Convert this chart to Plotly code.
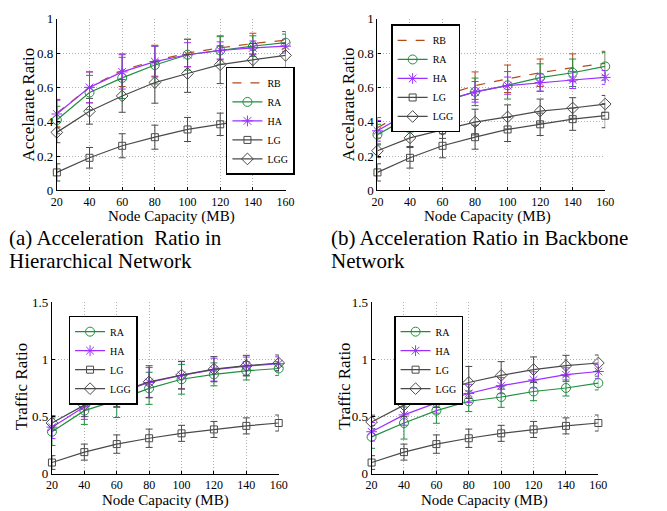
import plotly.graph_objects as go

W, H = 667, 511

capacity = [20, 40, 60, 80, 100, 120, 140, 160]

# (a) Acceleration ratio, hierarchical network
a_RB = [0.45, 0.60, 0.70, 0.755, 0.80, 0.83, 0.855, 0.875]
a_RB_err = [0.08, 0.09, 0.095, 0.09, 0.08, 0.07, 0.06, 0.05]
a_RA = [0.41, 0.57, 0.655, 0.73, 0.79, 0.815, 0.84, 0.86]
a_RA_err = [0.08, 0.10, 0.12, 0.11, 0.09, 0.08, 0.06, 0.05]
a_HA = [0.445, 0.60, 0.69, 0.75, 0.79, 0.815, 0.83, 0.84]
a_HA_err = [0.08, 0.09, 0.10, 0.09, 0.07, 0.05, 0.04, 0.04]
a_LG = [0.105, 0.19, 0.26, 0.31, 0.355, 0.385, 0.415, 0.435]
a_LG_err = [0.05, 0.06, 0.07, 0.07, 0.07, 0.065, 0.065, 0.07]
a_LGG = [0.338, 0.461, 0.55, 0.628, 0.681, 0.732, 0.76, 0.786]
a_LGG_err = [0.06, 0.075, 0.095, 0.12, 0.11, 0.11, 0.095, 0.07]

# (b) Acceleration ratio, backbone network
b_RB = [0.365, 0.47, 0.55, 0.61, 0.65, 0.685, 0.715, 0.74]
b_RB_err = [0.06, 0.075, 0.08, 0.08, 0.08, 0.08, 0.08, 0.07]
b_RA = [0.325, 0.43, 0.516, 0.574, 0.612, 0.657, 0.685, 0.722]
b_RA_err = [0.06, 0.09, 0.08, 0.08, 0.08, 0.08, 0.08, 0.08]
b_HA = [0.347, 0.456, 0.52, 0.574, 0.61, 0.628, 0.643, 0.658]
b_HA_err = [0.06, 0.07, 0.07, 0.06, 0.05, 0.05, 0.05, 0.04]
b_LG = [0.105, 0.19, 0.26, 0.31, 0.355, 0.385, 0.415, 0.435]
b_LG_err = [0.05, 0.06, 0.07, 0.07, 0.07, 0.065, 0.065, 0.07]
b_LGG = [0.231, 0.306, 0.353, 0.398, 0.428, 0.462, 0.48, 0.503]
b_LGG_err = [0.04, 0.05, 0.05, 0.075, 0.07, 0.07, 0.06, 0.05]

# (c) Traffic ratio, hierarchical network
c_RA = [0.368, 0.552, 0.642, 0.747, 0.826, 0.869, 0.90, 0.92]
c_RA_err = [0.12, 0.12, 0.15, 0.14, 0.13, 0.10, 0.08, 0.06]
c_HA = [0.408, 0.586, 0.70, 0.798, 0.86, 0.91, 0.94, 0.962]
c_HA_err = [0.10, 0.11, 0.12, 0.13, 0.12, 0.10, 0.08, 0.06]
c_LG = [0.099, 0.19, 0.26, 0.311, 0.354, 0.388, 0.419, 0.444]
c_LG_err = [0.06, 0.07, 0.08, 0.08, 0.07, 0.07, 0.07, 0.07]
c_LGG = [0.444, 0.60, 0.707, 0.804, 0.863, 0.914, 0.945, 0.968]
c_LGG_err = [0.06, 0.10, 0.12, 0.14, 0.12, 0.11, 0.09, 0.07]

# (d) Traffic ratio, backbone network
d_RA = [0.323, 0.444, 0.552, 0.634, 0.671, 0.719, 0.75, 0.793]
d_RA_err = [0.10, 0.14, 0.11, 0.09, 0.09, 0.08, 0.07, 0.06]
d_HA = [0.368, 0.515, 0.62, 0.702, 0.77, 0.821, 0.866, 0.894]
d_HA_err = [0.08, 0.09, 0.09, 0.08, 0.07, 0.07, 0.06, 0.06]
d_LG = [0.099, 0.19, 0.26, 0.311, 0.354, 0.388, 0.419, 0.444]
d_LG_err = [0.06, 0.07, 0.08, 0.08, 0.07, 0.07, 0.07, 0.07]
d_LGG = [0.453, 0.60, 0.70, 0.798, 0.86, 0.911, 0.945, 0.968]
d_LGG_err = [0.06, 0.10, 0.12, 0.14, 0.12, 0.11, 0.09, 0.07]

x_ticks = [20, 40, 60, 80, 100, 120, 140, 160]
y_ticks_acc = [0, 0.2, 0.4, 0.6, 0.8, 1]
y_ticks_acc_text = ["0", "0.2", "0.4", "0.6", "0.8", "1"]
y_ticks_tr = [0, 0.5, 1, 1.5]
y_ticks_tr_text = ["0", "0.5", "1", "1.5"]

SERIF = "Liberation Serif"
C_RB = "#b5491a"
C_RA = "#1f8f3f"
C_HA = "#9b30ff"
C_LG = "#4a4a4a"
C_LGG = "#4a4a4a"

STYLE = {
    "RB": dict(color=C_RB, dash="dash", symbol=None),
    "RA": dict(color=C_RA, dash="solid", symbol="circle-open"),
    "HA": dict(color=C_HA, dash="solid", symbol="asterisk-open"),
    "LG": dict(color=C_LG, dash="solid", symbol="square-open"),
    "LGG": dict(color=C_LGG, dash="solid", symbol="diamond-open"),
}
SIZES = {"RA": 9, "HA": 9, "LG": 7, "LGG": 9}

def px_x(p):
    return p / W

def px_y(p):
    return 1 - p / H

fig = go.Figure()

panels = [
    ("", "legend", [("RB", a_RB, a_RB_err), ("RA", a_RA, a_RA_err), ("HA", a_HA, a_HA_err),
                    ("LG", a_LG, a_LG_err), ("LGG", a_LGG, a_LGG_err)]),
    ("2", "legend2", [("RB", b_RB, b_RB_err), ("RA", b_RA, b_RA_err), ("HA", b_HA, b_HA_err),
                      ("LG", b_LG, b_LG_err), ("LGG", b_LGG, b_LGG_err)]),
    ("3", "legend3", [("RA", c_RA, c_RA_err), ("HA", c_HA, c_HA_err),
                      ("LG", c_LG, c_LG_err), ("LGG", c_LGG, c_LGG_err)]),
    ("4", "legend4", [("RA", d_RA, d_RA_err), ("HA", d_HA, d_HA_err),
                      ("LG", d_LG, d_LG_err), ("LGG", d_LGG, d_LGG_err)]),
]

for suffix, leg, series in panels:
    for name, vals, err in series:
        st = STYLE[name]
        mode = "lines" if st["symbol"] is None else "lines+markers"
        marker = None
        if st["symbol"] is not None:
            marker = dict(symbol=st["symbol"], size=SIZES[name], color=st["color"],
                          line=dict(color=st["color"], width=1))
        fig.add_trace(go.Scatter(
            x=capacity, y=vals, name=name, mode=mode,
            line=dict(color=st["color"], width=1.2, dash=st["dash"]),
            marker=marker,
            error_y=dict(type="data", array=err, visible=True, color=st["color"],
                         thickness=1, width=3.5),
            xaxis="x" + suffix, yaxis="y" + suffix, legend=leg,
            cliponaxis=False, hoverinfo="skip",
        ))

GRID = dict(showgrid=True, gridcolor="#b0b0b0", griddash="1px,2px", gridwidth=1)

def xaxis_cfg(domain, anchor, fs):
    return dict(domain=domain, anchor=anchor, range=[20, 160], tickvals=x_ticks,
                ticktext=[str(v) for v in x_ticks],
                showline=True, linecolor="black", linewidth=1.2, mirror=False,
                ticks="inside", ticklen=3, tickcolor="black",
                zeroline=False, tickfont=dict(family=SERIF, size=fs, color="black"),
                fixedrange=True, **GRID)

def yaxis_cfg(domain, anchor, rng, tv, tt, fs):
    return dict(domain=domain, anchor=anchor, range=rng, tickvals=tv, ticktext=tt,
                showline=True, linecolor="black", linewidth=1.2, mirror=False,
                ticks="inside", ticklen=3, tickcolor="black",
                zeroline=False, tickfont=dict(family=SERIF, size=fs, color="black"),
                fixedrange=True, **GRID)

top_y = [px_y(189), px_y(12)]
bot_y = [px_y(481), px_y(304)]

fig.update_layout(
    width=W, height=H, margin=dict(l=0, r=0, t=0, b=0),
    paper_bgcolor="white", plot_bgcolor="white",
    hovermode=False,
    xaxis=xaxis_cfg([px_x(52), px_x(286)], "y", 12),
    yaxis=yaxis_cfg(top_y, "x", [0, 1], y_ticks_acc, y_ticks_acc_text, 13),
    xaxis2=xaxis_cfg([px_x(380), px_x(613)], "y2", 12),
    yaxis2=yaxis_cfg(top_y, "x2", [0, 1], y_ticks_acc, y_ticks_acc_text, 13),
    xaxis3=xaxis_cfg([px_x(47), px_x(279)], "y3", 12),
    yaxis3=yaxis_cfg(bot_y, "x3", [0, 1.5], y_ticks_tr, y_ticks_tr_text, 13),
    xaxis4=xaxis_cfg([px_x(374), px_x(606)], "y4", 12),
    yaxis4=yaxis_cfg(bot_y, "x4", [0, 1.5], y_ticks_tr, y_ticks_tr_text, 13),
)

def legend_cfg(x, y, yanchor="top"):
    return dict(x=x, y=y, xanchor="left", yanchor=yanchor, bgcolor="white",
                bordercolor="black", borderwidth=1.5,
                font=dict(family=SERIF, size=10, color="black"),
                itemwidth=30, tracegroupgap=0)

fig.update_layout(
    legend=legend_cfg(px_x(225), px_y(173), "bottom"),
    legend2=legend_cfg(px_x(394), px_y(18)),
    legend3=legend_cfg(px_x(64), px_y(318)),
    legend4=legend_cfg(px_x(397), px_y(318)),
)

annotations = []

def text_ann(txt, xc, yc, size, angle=0, xanchor="center"):
    annotations.append(dict(text=txt, x=px_x(xc), y=px_y(yc), xref="paper", yref="paper",
                            xanchor=xanchor, yanchor="middle", showarrow=False,
                            textangle=angle, borderpad=0,
                            font=dict(family=SERIF, size=size, color="black")))

# axis titles
text_ann("Accelarate Ratio", 23, 100, 17, -90)
text_ann("Accelarate Ratio", 350, 100, 17, -90)
text_ann("Traffic Ratio", 16, 391, 17, -90)
text_ann("Traffic Ratio", 346, 391, 17, -90)
text_ann("Node Capacity (MB)", 169, 216, 15)
text_ann("Node Capacity (MB)", 493, 216, 15)
text_ann("Node Capacity (MB)", 163, 508, 15)
text_ann("Node Capacity (MB)", 490, 508, 15)

# captions
text_ann("(a) Acceleration&nbsp; Ratio in", 2, 238, 21, xanchor="left")
text_ann("Hierarchical Network", 2, 262, 21, xanchor="left")
text_ann("(b) Acceleration Ratio in Backbone", 331, 238, 21, xanchor="left")
text_ann("Network", 331, 262, 21, xanchor="left")

fig.update_layout(annotations=annotations)

fig.write_html("out.html")
